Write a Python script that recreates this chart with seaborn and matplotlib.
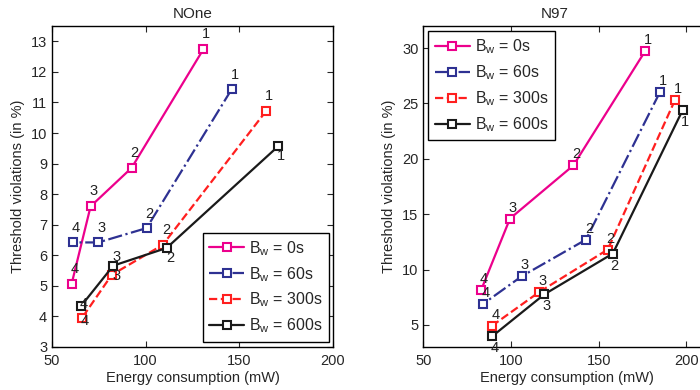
import numpy as np
import pandas as pd
import seaborn as sns
import matplotlib
matplotlib.use("Agg")
import matplotlib.pyplot as plt

# Data
series_names = ["0s", "60s", "300s", "600s"]
point_labels = ["1", "2", "3", "4"]

# NOne
none_energy = {
    "0s": [130.8, 92.5, 70.6, 60.5],
    "60s": [145.9, 100.5, 74.7, 61.0],
    "300s": [164.3, 109.1, 81.9, 65.9],
    "600s": [170.8, 111.2, 82.7, 65.5],
}
none_viol = {
    "0s": [12.74, 8.86, 7.60, 5.07],
    "60s": [11.43, 6.89, 6.42, 6.42],
    "300s": [10.72, 6.34, 5.36, 3.94],
    "600s": [9.57, 6.24, 5.66, 4.34],
}

# N97
n97_energy = {
    "0s": [176.3, 135.5, 99.4, 82.9],
    "60s": [184.9, 142.7, 106.1, 83.8],
    "300s": [193.4, 155.1, 116.1, 89.3],
    "600s": [197.8, 158.0, 119.0, 89.3],
}
n97_viol = {
    "0s": [29.7, 19.4, 14.6, 8.12],
    "60s": [26.04, 12.7, 9.39, 6.86],
    "300s": [25.3, 11.8, 7.97, 4.93],
    "600s": [24.4, 11.44, 7.76, 3.97],
}

colors = {"0s": "#ec008c", "60s": "#2e3192", "300s": "#ff1f1f", "600s": "#1a1a1a"}
styles = {"0s": "-", "60s": "-.", "300s": "--", "600s": "-"}

# label offsets (pixels) for the point numbers
none_offsets = {
    "0s": [(3, 15)] * 4,
    "60s": [(3, 14)] * 4,
    "300s": [(3, 15), (4, 15), (5, -1), (3, -3)],
    "600s": [(3, -10), (4, -10), (3, 9), (3, 2)],
}
n97_offsets = {
    "0s": [(3, 11)] * 4,
    "60s": [(3, 11)] * 4,
    "300s": [(3, 11)] * 4,
    "600s": [(2, -12)] * 4,
}

sns.set_style("ticks")
plt.rcParams["font.family"] = ["Liberation Sans", "DejaVu Sans"]
plt.rcParams["mathtext.fontset"] = "custom"
plt.rcParams["mathtext.rm"] = "Liberation Sans"
plt.rcParams["mathtext.it"] = "Liberation Sans:italic"

fig = plt.figure(figsize=(7, 3.9), dpi=100)
ax1 = fig.add_axes([0.0743, 0.1103, 0.4014, 0.823])
# right panel runs past the image edge (cropped in the reference)
ax2 = fig.add_axes([0.6047, 0.1103, 0.4096, 0.823])


def draw(ax, energy, viol, offsets):
    for name in series_names:
        df = pd.DataFrame({"energy": energy[name], "viol": viol[name]})
        sns.lineplot(data=df, x="energy", y="viol", ax=ax, sort=False,
                     color=colors[name], linestyle=styles[name], linewidth=1.6,
                     marker="s", markersize=5.5, markerfacecolor="white",
                     markeredgecolor=colors[name], markeredgewidth=1.5,
                     label=r"B$_{\mathrm{w}}$ = " + name)
        for i, lab in enumerate(point_labels):
            dx, dy = offsets[name][i]
            ax.annotate(lab, (energy[name][i], viol[name][i]), xytext=(dx, dy),
                        textcoords="offset pixels", ha="center", va="center",
                        fontsize=10.5, color="#222222")
    ax.set_xlabel("Energy consumption (mW)", fontsize=10.5, labelpad=2)
    ax.set_ylabel("Threshold violations (in %)", fontsize=10.5)
    ax.tick_params(direction="in", top=True, right=True, labelsize=10.5, length=4, width=0.8)
    ax.tick_params(axis="x", pad=5)
    for sp in ax.spines.values():
        sp.set_linewidth(1.0)
        sp.set_color("black")


draw(ax1, none_energy, none_viol, none_offsets)
ax1.set_xlim(50, 200)
ax1.set_ylim(3, 13.5)
ax1.set_xticks([50, 100, 150, 200])
ax1.set_yticks(np.arange(3, 14))
ax1.set_title("NOne", fontsize=11, pad=6)
ax1.legend(loc="lower right", bbox_to_anchor=(0.987, 0.0165), borderaxespad=0,
           fontsize=11.5, frameon=True, fancybox=False, framealpha=1,
           edgecolor="black", handlelength=2.2, handletextpad=0.3,
           labelspacing=0.45).get_frame().set_linewidth(1.0)

draw(ax2, n97_energy, n97_viol, n97_offsets)
ax2.set_xlim(50, 213.4)
ax2.set_ylim(3, 32)
ax2.set_xticks([50, 100, 150, 200])
ax2.set_yticks([5, 10, 15, 20, 25, 30])
ax2.set_title("N97", fontsize=11, pad=6, x=0.46)
ax2.legend(loc="upper left", bbox_to_anchor=(0.0174, 0.984), borderaxespad=0,
           fontsize=11.5, frameon=True, fancybox=False, framealpha=1,
           edgecolor="black", handlelength=2.2, handletextpad=0.3,
           labelspacing=0.45).get_frame().set_linewidth(1.0)

fig.savefig("out.png", dpi=100)
